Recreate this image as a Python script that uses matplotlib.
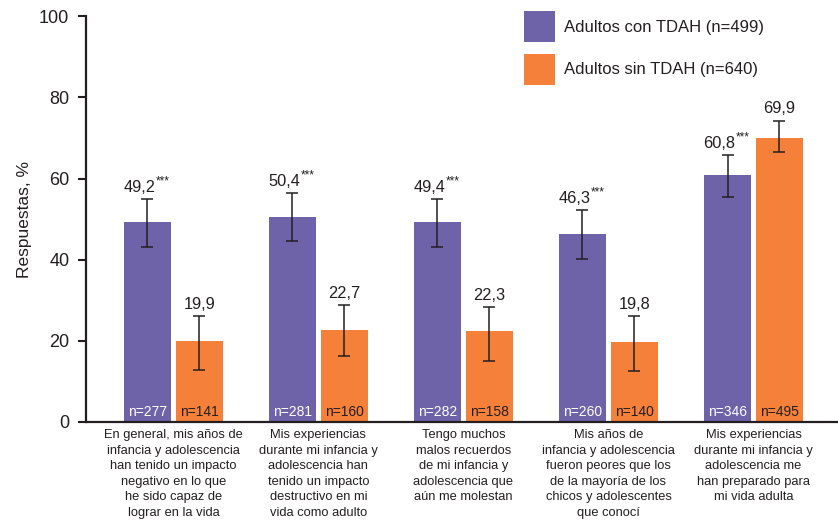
import matplotlib.pyplot as plt
import numpy as np

plt.rcParams["font.family"] = ["Liberation Sans", "DejaVu Sans"]

# ---------------------------------------------------------------------------
# Data
# ---------------------------------------------------------------------------
categories = [
    "En general, mis años de\ninfancia y adolescencia\nhan tenido un impacto\nnegativo en lo que\nhe sido capaz de\nlograr en la vida",
    "Mis experiencias\ndurante mi infancia y\nadolescencia han\ntenido un impacto\ndestructivo en mi\nvida como adulto",
    "Tengo muchos\nmalos recuerdos\nde mi infancia y\nadolescencia que\naún me molestan",
    "Mis años de\ninfancia y adolescencia\nfueron peores que los\nde la mayoría de los\nchicos y adolescentes\nque conocí",
    "Mis experiencias\ndurante mi infancia y\nadolescencia me\nhan preparado para\nmi vida adulta",
]
series_names = ["Adultos con TDAH (n=499)", "Adultos sin TDAH (n=640)"]

tdah_vals = [49.2, 50.4, 49.4, 46.3, 60.8]
tdah_ci_low = [43.2, 44.7, 43.1, 40.1, 55.4]
tdah_ci_high = [54.9, 56.4, 54.9, 52.2, 65.8]
tdah_stars = ["***", "***", "***", "***", "***"]
tdah_n = [277, 281, 282, 260, 346]

no_tdah_vals = [19.9, 22.7, 22.3, 19.8, 69.9]
no_tdah_ci_low = [12.8, 16.3, 15.0, 12.6, 66.6]
no_tdah_ci_high = [26.1, 28.8, 28.3, 26.1, 74.3]
no_tdah_stars = ["", "", "", "", ""]
no_tdah_n = [141, 160, 158, 140, 495]

PURPLE = "#6e62a9"
ORANGE = "#f5803a"
INK = "#231f20"

# ---------------------------------------------------------------------------
# Figure
# ---------------------------------------------------------------------------
fig = plt.figure(figsize=(8.38, 5.24), dpi=100)
ax = fig.add_axes([0.1026, 0.1947, 0.8974, 0.7743])

x = np.arange(len(categories))
width = 0.324
offset = 0.179

series = [
    (tdah_vals, tdah_ci_low, tdah_ci_high, tdah_stars, tdah_n, PURPLE, "white", -offset),
    (no_tdah_vals, no_tdah_ci_low, no_tdah_ci_high, no_tdah_stars, no_tdah_n, ORANGE, INK, offset),
]

for (vals, lo, hi, stars, ns, color, ncolor, dx), name in zip(series, series_names):
    vals = np.array(vals)
    lo = np.array(lo)
    hi = np.array(hi)
    pos = x + dx
    ax.bar(pos, vals, width=width, color=color, label=name, zorder=2)
    ax.errorbar(pos, vals, yerr=[vals - lo, hi - vals], fmt="none",
                ecolor=INK, elinewidth=1.1, capsize=4.2, capthick=1.1, zorder=3)
    for p, v, h, s, n in zip(pos, vals, hi, stars, ns):
        txt = f"{v:.1f}".replace(".", ",")
        shift = -5.8 if s else 0
        num = ax.annotate(txt, (p, h), xytext=(shift, 3), textcoords="offset points",
                          ha="center", va="bottom", fontsize=11.8, color=INK)
        if s:
            # significance stars, small and raised
            ax.annotate(s, xy=(1, 0.5), xycoords=num, ha="left", va="bottom",
                        fontsize=8.5, color=INK)
        ax.text(p, 0.8, f"n={n}", ha="center", va="bottom",
                fontsize=10, color=ncolor, zorder=4)

ax.set_xlim(-0.603, 4.583)
ax.set_ylim(0, 100)
ax.set_yticks([0, 20, 40, 60, 80, 100])
ax.set_xticks(x)
ax.set_xticklabels(categories, fontsize=9.3, color=INK, linespacing=1.4)
ax.tick_params(axis="x", length=0, pad=5)
ax.tick_params(axis="y", length=6, width=1.5, labelsize=13, colors=INK, pad=6)
ax.set_ylabel("Respuestas, %", fontsize=12.5, color=INK, labelpad=5)

for side in ("top", "right"):
    ax.spines[side].set_visible(False)
for side in ("left", "bottom"):
    ax.spines[side].set_linewidth(1.6)
    ax.spines[side].set_color(INK)

ax.legend(loc="upper left", bbox_to_anchor=(0.562, 1.05), frameon=False,
          fontsize=12, handlelength=1.9, handleheight=2.48, labelspacing=0.7,
          handletextpad=0.55, labelcolor=INK)

fig.savefig("out.png", dpi=100)
